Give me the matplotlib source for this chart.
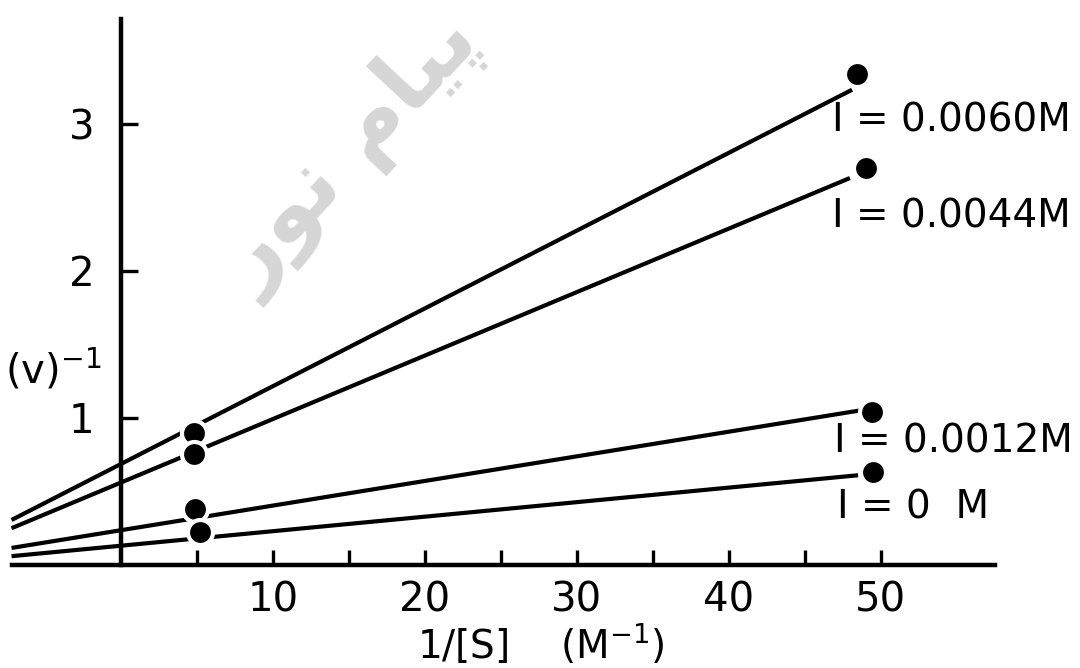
import matplotlib
matplotlib.use("Agg")
import matplotlib.pyplot as plt

# Lineweaver-Burk data
inhibitor_labels = ["I = 0.0060M", "I = 0.0044M", "I = 0.0012M", "I = 0  M"]
inv_s = [[4.8, 48.4], [4.8, 49.0], [4.9, 49.4], [5.2, 49.5]]
inv_v = [[0.90, 3.34], [0.755, 2.70], [0.38, 1.04], [0.225, 0.635]]

# fitted lines (start / end)
fit_x = [[-7.2, 48.1], [-7.2, 47.96], [-7.2, 48.6], [-7.2, 48.5]]
fit_y = [[0.306, 3.23], [0.25, 2.63], [0.116, 1.05], [0.06, 0.61]]

label_x = [46.8, 46.8, 46.9, 47.1]
label_y = [3.02, 2.37, 0.84, 0.39]

x_major = [10, 20, 30, 40, 50]
x_minor = [5, 15, 25, 35, 45]
y_major = [1, 2, 3]

fig = plt.figure(figsize=(10.8, 6.68), dpi=100)
ax = fig.add_axes([0, 0, 1, 1])
ax.set_xlim(-7.96, 63.1)
ax.set_ylim(-0.70, 3.84)

# watermark
fig.text(0.325, 0.77, "\uFEAD\uFEEE\uFEE7 \uFEE1\uFE8E\uFBFF\uFB58",
         rotation=47, fontsize=64, color="#d6d6d6", fontweight="bold",
         ha="center", va="center", zorder=0, family=["DejaVu Sans"])

for xs, ys in zip(fit_x, fit_y):
    ax.plot(xs, ys, color="black", lw=3.0, solid_capstyle="butt", zorder=2)

for xs, ys in zip(inv_s, inv_v):
    ax.plot(xs, ys, "o", color="black", ms=18, mec="white", mew=3,
            linestyle="none", zorder=3, clip_on=False)

for lab, lx, ly in zip(inhibitor_labels, label_x, label_y):
    ax.text(lx, ly, lab, fontsize=28, va="center", ha="left")

# axes through the origin
for s in ["top", "right"]:
    ax.spines[s].set_visible(False)
ax.spines["left"].set_position(("data", 0))
ax.spines["bottom"].set_position(("data", 0))
ax.spines["left"].set_bounds(0, 3.71)
ax.spines["bottom"].set_bounds(-7.2, 57.5)
ax.spines["left"].set_linewidth(3.2)
ax.spines["bottom"].set_linewidth(3.2)

ax.set_xticks(x_major)
ax.set_xticklabels([str(v) for v in x_major])
ax.set_xticks(x_minor, minor=True)
ax.set_yticks(y_major)
ax.set_yticklabels([str(v) for v in y_major])
ax.tick_params(axis="x", which="both", direction="in", length=11, width=2.4,
               labelsize=29, pad=11)
ax.tick_params(axis="y", which="both", direction="in", length=12, width=2.4,
               labelsize=29, pad=19)
ax.patch.set_visible(False)

ax.text(27.6, -0.685, r"$\mathregular{1/[S]\ \ \ \ (M^{-1})}$", fontsize=28,
        ha="center", va="bottom", clip_on=False)
ax.text(-7.6, 1.33, r"$\mathregular{(v)^{-1}}$", fontsize=29,
        ha="left", va="center", clip_on=False)

fig.savefig("out.png", dpi=100)
